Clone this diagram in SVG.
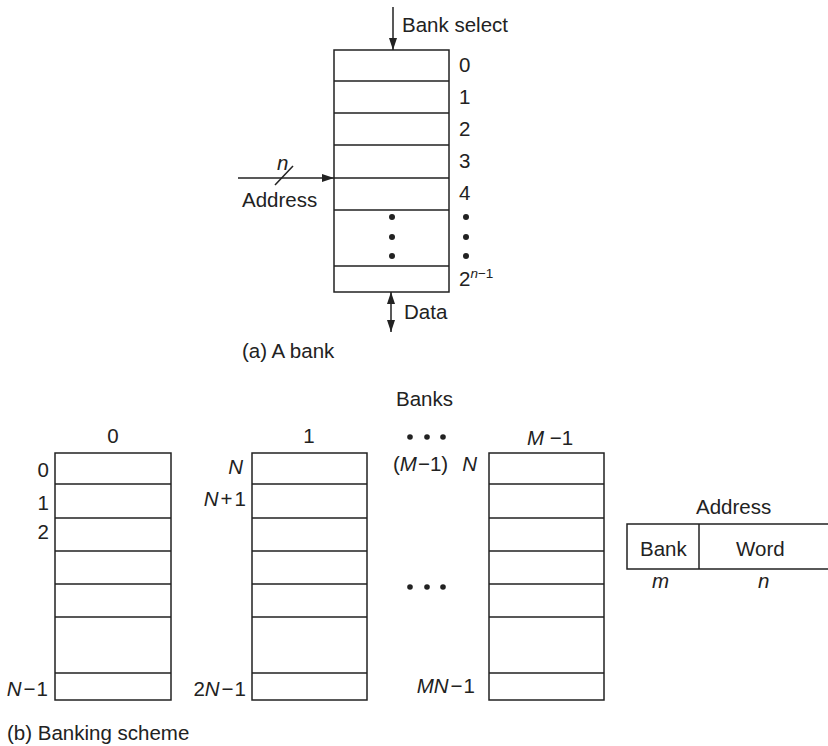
<svg xmlns="http://www.w3.org/2000/svg" width="828" height="746" viewBox="0 0 828 746">
<defs>
<style>
.box{fill:#fff;stroke:#222;stroke-width:1.5}
.ln{stroke:#222;stroke-width:1.5;fill:none}
.t{font-family:"Liberation Sans",Arial,sans-serif;font-size:20.5px;fill:#222}
.e{text-anchor:end}
.m{text-anchor:middle}
.i{font-style:italic}
.sup{font-size:13.5px}
.dot{fill:#222}
</style>
<marker id="ah" markerWidth="12" markerHeight="8" refX="12" refY="4" orient="auto-start-reverse" markerUnits="userSpaceOnUse">
<path d="M0,0 L12,4 L0,8 Z" fill="#222"/>
</marker>
</defs>
<rect width="828" height="746" fill="#fff"/>

<g id="bank-a">
<rect class="box" x="334" y="50" width="115" height="242"/>
<path class="ln" d="M334,81H449M334,113H449M334,145H449M334,178H449M334,210H449M334,266H449"/>
<circle class="dot" cx="392" cy="217" r="3"/>
<circle class="dot" cx="392" cy="237" r="3"/>
<circle class="dot" cx="392" cy="256" r="3"/>
<text class="t" x="459" y="72">0</text>
<text class="t" x="459" y="104">1</text>
<text class="t" x="459" y="136">2</text>
<text class="t" x="459" y="168">3</text>
<text class="t" x="459" y="200">4</text>
<circle class="dot" cx="466" cy="217" r="3"/>
<circle class="dot" cx="466" cy="237" r="3"/>
<circle class="dot" cx="466" cy="256" r="3"/>
<text class="t" x="459" y="286">2<tspan class="sup i" y="278">n</tspan><tspan class="sup" y="278">−1</tspan></text>
<text class="t" x="402" y="32">Bank select</text>
<text class="t" x="242" y="207">Address</text>
<text class="t i" x="277" y="170">n</text>
<text class="t" x="404" y="319">Data</text>
<text class="t" x="242" y="358">(a) A bank</text>
</g>

<g id="connectors">
<line class="ln" x1="393" y1="7" x2="393" y2="50" marker-end="url(#ah)"/>
<line class="ln" x1="238" y1="178" x2="334" y2="178" marker-end="url(#ah)"/>
<line class="ln" x1="275" y1="185" x2="293" y2="166"/>
<line class="ln" x1="391" y1="292" x2="391" y2="332" marker-start="url(#ah)" marker-end="url(#ah)"/>
</g>

<text class="t" x="396" y="406">Banks</text>

<g id="bank-0">
<rect class="box" x="55" y="453" width="116" height="247"/>
<path class="ln" d="M55,484H171M55,518H171M55,551H171M55,584H171M55,617H171M55,673H171"/>
<text class="t m" x="113" y="443">0</text>
<text class="t e" x="49" y="477">0</text>
<text class="t e" x="49" y="510">1</text>
<text class="t e" x="49" y="539">2</text>
<text class="t e" x="48" y="696"><tspan class="i">N</tspan><tspan dx="2">−</tspan><tspan dx="1">1</tspan></text>
</g>

<g id="bank-1">
<rect class="box" x="252" y="453" width="115" height="247"/>
<path class="ln" d="M252,484H367M252,518H367M252,551H367M252,584H367M252,617H367M252,673H367"/>
<text class="t m" x="309" y="443">1</text>
<text class="t e i" x="243" y="474">N</text>
<text class="t e" x="246" y="506"><tspan class="i">N</tspan><tspan dx="2">+</tspan><tspan dx="2">1</tspan></text>
<text class="t e" x="246" y="696">2<tspan class="i">N</tspan><tspan dx="2">−</tspan><tspan dx="1">1</tspan></text>
</g>

<g id="bank-ellipsis">
<circle class="dot" cx="410" cy="437" r="2.8"/>
<circle class="dot" cx="427" cy="437" r="2.8"/>
<circle class="dot" cx="443" cy="437" r="2.8"/>
<circle class="dot" cx="410" cy="587" r="2.8"/>
<circle class="dot" cx="427" cy="587" r="2.8"/>
<circle class="dot" cx="443" cy="587" r="2.8"/>
</g>

<g id="bank-m1">
<rect class="box" x="489" y="453" width="115" height="247"/>
<path class="ln" d="M489,484H604M489,518H604M489,551H604M489,584H604M489,617H604M489,673H604"/>
<text class="t" x="527" y="445"><tspan class="i">M</tspan> −1</text>
<text class="t" x="393" y="471">(<tspan class="i">M</tspan><tspan dx="1">−</tspan>1)</text>
<text class="t e i" x="477" y="471">N</text>
<text class="t e" x="475" y="693"><tspan class="i">MN</tspan><tspan dx="2">−</tspan><tspan dx="1">1</tspan></text>
</g>

<g id="address-field">
<rect class="box" x="627" y="524" width="215" height="45"/>
<line class="ln" x1="699" y1="524" x2="699" y2="569"/>
<text class="t" x="696" y="514">Address</text>
<text class="t" x="640" y="556">Bank</text>
<text class="t" x="736" y="556">Word</text>
<text class="t i" x="652" y="588">m</text>
<text class="t i" x="758" y="588">n</text>
</g>

<text class="t" x="7" y="740">(b) Banking scheme</text>
</svg>
